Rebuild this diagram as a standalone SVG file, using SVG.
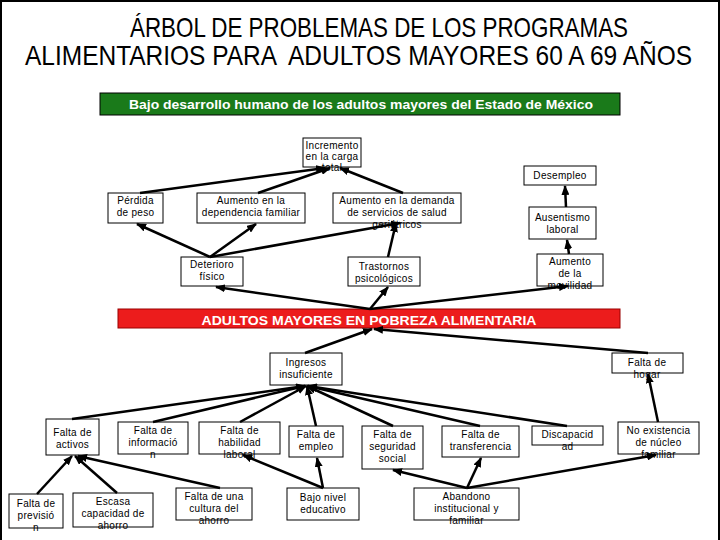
<svg xmlns="http://www.w3.org/2000/svg" width="720" height="540" viewBox="0 0 720 540">
<defs>
<marker id="ah" markerUnits="userSpaceOnUse" markerWidth="10" markerHeight="8" refX="9" refY="4" orient="auto">
<path d="M0,0 L10,4 L0,8 z" fill="#000"/>
</marker>
<style>
.box{fill:#fff;stroke:#000;stroke-width:1}
.t{font-family:"Liberation Sans",Arial,sans-serif;font-size:10px;letter-spacing:0.3px;fill:#000;text-anchor:middle}
.title{font-family:"Liberation Sans",Arial,sans-serif;font-size:22px;fill:#000;text-anchor:middle}
.band{font-family:"Liberation Sans",Arial,sans-serif;font-weight:bold;font-size:13px;fill:#fff;text-anchor:middle}
.c line{stroke:#000;stroke-width:2.5;marker-end:url(#ah)}
</style>
</defs>
<rect x="0" y="0" width="720" height="540" fill="#fff"/>
<path d="M1,540 V1 H719 V540" fill="none" stroke="#000" stroke-width="2"/>
<g id="title">
<text class="title" transform="translate(379,37) scale(1,1.25)" x="0" y="0" textLength="498" lengthAdjust="spacingAndGlyphs">ÁRBOL DE PROBLEMAS DE LOS PROGRAMAS</text>
<text class="title" transform="translate(358.5,65) scale(1,1.25)" x="0" y="0" textLength="667" lengthAdjust="spacingAndGlyphs" xml:space="preserve">ALIMENTARIOS PARA  ADULTOS MAYORES 60 A 69 AÑOS</text>
</g>
<g id="efecto-principal">
<rect x="100" y="93" width="520" height="22" fill="#1a7a1a" stroke="#000" stroke-width="1"/>
<text class="band" x="361" y="109" textLength="464" lengthAdjust="spacingAndGlyphs">Bajo desarrollo humano de los adultos mayores del Estado de México</text>
</g>
<g id="inc"><rect class="box" x="303" y="138" width="58" height="29"/><text class="t"><tspan x="332" y="149">Incremento</tspan><tspan x="332" y="160">en la carga</tspan><tspan x="332" y="171">total</tspan></text></g>
<g id="des"><rect class="box" x="524" y="166" width="72" height="19"/><text class="t" x="560" y="179">Desempleo</text></g>
<g id="per"><rect class="box" x="108" y="193" width="55" height="30"/><text class="t"><tspan x="135.5" y="204">Pérdida</tspan><tspan x="135.5" y="216">de peso</tspan></text></g>
<g id="dep"><rect class="box" x="197" y="193" width="108" height="30"/><text class="t"><tspan x="251" y="204">Aumento en la</tspan><tspan x="251" y="216">dependencia familiar</tspan></text></g>
<g id="dem"><rect class="box" x="333" y="193" width="128" height="30"/><text class="t"><tspan x="397" y="204">Aumento en la demanda</tspan><tspan x="397" y="216">de servicios de salud</tspan><tspan x="397" y="228">geriátricos</tspan></text></g>
<g id="aus"><rect class="box" x="529" y="207" width="67" height="32"/><text class="t"><tspan x="562.5" y="221">Ausentismo</tspan><tspan x="562.5" y="233">laboral</tspan></text></g>
<g id="det"><rect class="box" x="181" y="257" width="62" height="29"/><text class="t"><tspan x="212" y="268">Deterioro</tspan><tspan x="212" y="280">físico</tspan></text></g>
<g id="tra"><rect class="box" x="348" y="257" width="72" height="29"/><text class="t"><tspan x="384" y="270">Trastornos</tspan><tspan x="384" y="282">psicológicos</tspan></text></g>
<g id="mov"><rect class="box" x="537" y="254" width="66" height="32"/><text class="t"><tspan x="570" y="265">Aumento</tspan><tspan x="570" y="277">de la</tspan><tspan x="570" y="289">movilidad</tspan></text></g>
<g id="problema-central">
<rect x="118" y="309" width="502" height="19" fill="#ec1c1c" stroke="#900" stroke-width="1"/>
<text class="band" x="369" y="325" textLength="335" lengthAdjust="spacingAndGlyphs">ADULTOS MAYORES EN POBREZA ALIMENTARIA</text>
</g>
<g id="ing"><rect class="box" x="270" y="353" width="72" height="32"/><text class="t"><tspan x="306" y="366">Ingresos</tspan><tspan x="306" y="378">insuficiente</tspan></text></g>
<g id="hog"><rect class="box" x="612" y="353" width="71" height="20"/><text class="t"><tspan x="647" y="366">Falta de</tspan><tspan x="647" y="378">hogar</tspan></text></g>
<g id="act"><rect class="box" x="46" y="419" width="53" height="36"/><text class="t"><tspan x="72.5" y="436">Falta de</tspan><tspan x="72.5" y="448">activos</tspan></text></g>
<g id="inf"><rect class="box" x="118" y="422" width="70" height="32"/><text class="t"><tspan x="153" y="434">Falta de</tspan><tspan x="153" y="446">informació</tspan><tspan x="153" y="458">n</tspan></text></g>
<g id="hab"><rect class="box" x="199" y="422" width="81" height="32"/><text class="t"><tspan x="239.5" y="434">Falta de</tspan><tspan x="239.5" y="446">habilidad</tspan><tspan x="239.5" y="458">laboral</tspan></text></g>
<g id="emp"><rect class="box" x="289" y="426" width="54" height="31"/><text class="t"><tspan x="316" y="438">Falta de</tspan><tspan x="316" y="450">empleo</tspan></text></g>
<g id="seg"><rect class="box" x="362" y="426" width="61" height="43"/><text class="t"><tspan x="392.5" y="438">Falta de</tspan><tspan x="392.5" y="450">seguridad</tspan><tspan x="392.5" y="462">social</tspan></text></g>
<g id="tran"><rect class="box" x="442" y="426" width="77" height="31"/><text class="t"><tspan x="480.5" y="438">Falta de</tspan><tspan x="480.5" y="450">transferencia</tspan></text></g>
<g id="dis"><rect class="box" x="532" y="426" width="71" height="19"/><text class="t"><tspan x="567.5" y="438">Discapacid</tspan><tspan x="567.5" y="450">ad</tspan></text></g>
<g id="nuc"><rect class="box" x="618" y="422" width="81" height="32"/><text class="t"><tspan x="658.5" y="434">No existencia</tspan><tspan x="658.5" y="446">de núcleo</tspan><tspan x="658.5" y="458">familiar</tspan></text></g>
<g id="prev"><rect class="box" x="9" y="494" width="54" height="34"/><text class="t"><tspan x="36" y="507">Falta de</tspan><tspan x="36" y="519">previsió</tspan><tspan x="36" y="531">n</tspan></text></g>
<g id="esc"><rect class="box" x="73" y="493" width="80" height="34"/><text class="t"><tspan x="113" y="505">Escasa</tspan><tspan x="113" y="517">capacidad de</tspan><tspan x="113" y="529">ahorro</tspan></text></g>
<g id="cul"><rect class="box" x="176" y="488" width="76" height="32"/><text class="t"><tspan x="214" y="500">Falta de una</tspan><tspan x="214" y="512">cultura del</tspan><tspan x="214" y="524">ahorro</tspan></text></g>
<g id="baj"><rect class="box" x="287" y="488" width="72" height="32"/><text class="t"><tspan x="323" y="501">Bajo nivel</tspan><tspan x="323" y="513">educativo</tspan></text></g>
<g id="aba"><rect class="box" x="414" y="488" width="105" height="32"/><text class="t"><tspan x="466.5" y="500">Abandono</tspan><tspan x="466.5" y="512">institucional y</tspan><tspan x="466.5" y="524">familiar</tspan></text></g>
<g id="connectors" class="c">
<line x1="140" y1="193" x2="325" y2="168"/>
<line x1="258" y1="193" x2="330" y2="168"/>
<line x1="403" y1="193" x2="340" y2="168"/>
<line x1="210" y1="257" x2="137" y2="224"/>
<line x1="210" y1="257" x2="256" y2="224"/>
<line x1="210" y1="257" x2="400" y2="223"/>
<line x1="388" y1="257" x2="396" y2="223"/>
<line x1="370" y1="309" x2="216" y2="287"/>
<line x1="370" y1="309" x2="388" y2="287"/>
<line x1="370" y1="309" x2="568" y2="286"/>
<line x1="569" y1="254" x2="567" y2="240"/>
<line x1="566" y1="207" x2="565" y2="186"/>
<line x1="305" y1="353" x2="372" y2="329"/>
<line x1="648" y1="353" x2="374" y2="329"/>
<line x1="72" y1="419" x2="305" y2="386"/>
<line x1="153" y1="422" x2="305" y2="386"/>
<line x1="240" y1="422" x2="306" y2="386"/>
<line x1="316" y1="426" x2="307" y2="386"/>
<line x1="393" y1="426" x2="307" y2="386"/>
<line x1="480" y1="426" x2="308" y2="386"/>
<line x1="567" y1="426" x2="308" y2="386"/>
<line x1="658" y1="422" x2="648" y2="374"/>
<line x1="37" y1="494" x2="72" y2="456"/>
<line x1="117" y1="493" x2="75" y2="456"/>
<line x1="220" y1="488" x2="78" y2="456"/>
<line x1="323" y1="488" x2="243" y2="455"/>
<line x1="323" y1="488" x2="317" y2="458"/>
<line x1="467" y1="488" x2="393" y2="470"/>
<line x1="467" y1="488" x2="481" y2="458"/>
<line x1="467" y1="488" x2="656" y2="455"/>
</g>
</svg>
